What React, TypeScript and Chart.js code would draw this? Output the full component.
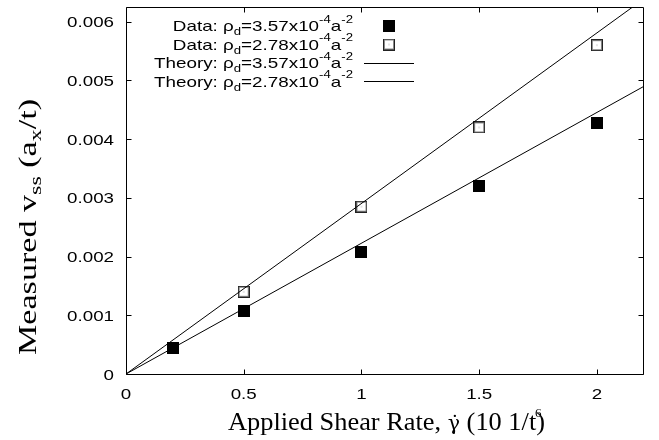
import { useEffect, useRef } from "react";
import { Chart, registerables } from "chart.js";

Chart.register(...registerables);

// ---- data ----
const xTicks = [0, 0.5, 1, 1.5, 2];
const xTickLabels = ["0", "0.5", "1", "1.5", "2"];
const yTicks = [0, 0.001, 0.002, 0.003, 0.004, 0.005, 0.006];
const yTickLabels = ["0", "0.001", "0.002", "0.003", "0.004", "0.005", "0.006"];

// Data: rho_d = 3.57e-4 (filled squares)
const shearA = [0.2, 0.5, 1, 1.5, 2];
const velA = [0.00044, 0.00108, 0.00208, 0.0032, 0.00428];
// Data: rho_d = 2.78e-4 (open squares)
const shearB = [0.5, 1, 1.5, 2];
const velB = [0.0014, 0.00285, 0.0042, 0.0056];
// Theory lines (end points)
const theoryX = [0, 2.2];
const theoryA = [0, 0.0049];
const theoryB = [0, 0.00639];

const legendLabels = ["Data: ", "Data: ", "Theory: ", "Theory: "];
const legendDensity = ["3.57", "2.78", "3.57", "2.78"];

const X_MIN = 0;
const X_MAX = 2.2;
const Y_MIN = 0;
const Y_MAX = 0.00625;

const SANS = '"Liberation Sans", Arial, sans-serif';
const SERIF = '"Liberation Serif", "Times New Roman", serif';
const GREEK = '"DejaVu Serif", serif';

type Seg = { t: string; k?: "sub" | "sup"; f?: string; s?: number };

function segFont(size: number, family: string, seg: Seg) {
  let s = seg.k ? size * 0.7 : size;
  if (seg.s) s *= seg.s;
  return `${s}px ${seg.f || family}`;
}
function measureRich(ctx: CanvasRenderingContext2D, segs: Seg[], size: number, family: string) {
  let w = 0;
  for (const s of segs) {
    ctx.font = segFont(size, family, s);
    w += ctx.measureText(s.t).width;
  }
  return w;
}
function drawRich(
  ctx: CanvasRenderingContext2D,
  segs: Seg[],
  x: number,
  y: number,
  size: number,
  family: string,
  sx: number,
  align: "left" | "right" | "center",
  subDy = 0.22,
  supDy = 0.5
) {
  const w = measureRich(ctx, segs, size, family);
  ctx.save();
  ctx.translate(x, y);
  ctx.scale(sx, 1);
  let cx = align === "right" ? -w : align === "center" ? -w / 2 : 0;
  ctx.textAlign = "left";
  ctx.textBaseline = "alphabetic";
  for (const s of segs) {
    ctx.font = segFont(size, family, s);
    const dy = s.k === "sub" ? size * subDy : s.k === "sup" ? -size * supDy : 0;
    ctx.fillText(s.t, cx, dy);
    cx += ctx.measureText(s.t).width;
  }
  ctx.restore();
}

function makeFilled() {
  const c = document.createElement("canvas");
  c.width = 12;
  c.height = 12;
  const g = c.getContext("2d")!;
  g.fillStyle = "#000";
  g.fillRect(0, 0, 12, 12);
  return c;
}
function makeOpen() {
  const c = document.createElement("canvas");
  c.width = 12;
  c.height = 12;
  const g = c.getContext("2d")!;
  g.fillStyle = "#fff";
  g.fillRect(0, 0, 12, 12);
  g.strokeStyle = "#222";
  g.lineWidth = 1;
  g.strokeRect(0.5, 0.5, 11, 11);
  g.strokeStyle = "#8a8a8a";
  g.strokeRect(1.5, 1.5, 9, 9);
  g.fillStyle = "#999";
  g.fillRect(5.5, 5.5, 1, 1);
  return c;
}

export default function App() {
  const ref = useRef<HTMLCanvasElement | null>(null);

  useEffect(() => {
    const canvas = ref.current;
    if (!canvas) return;
    const filledImg = makeFilled();
    const openImg = makeOpen();

    const overlay = {
      id: "overlay",
      afterDraw(chart: any) {
        const { ctx, chartArea: a, scales } = chart;
        const L = Math.round(a.left) + 0.5;
        const R = Math.round(a.right) - 0.5;
        const T = Math.round(a.top) + 0.5;
        const B = Math.round(a.bottom) + 0.5;
        ctx.save();
        ctx.strokeStyle = "#000";
        ctx.lineWidth = 1;
        ctx.beginPath();
        ctx.moveTo(L, T);
        ctx.lineTo(R, T);
        ctx.lineTo(R, B);
        ctx.lineTo(L, B);
        ctx.closePath();
        const tl = 5;
        for (const v of xTicks) {
          const px = Math.round(scales.x.getPixelForValue(v)) + 0.5;
          ctx.moveTo(px, B);
          ctx.lineTo(px, B - tl);
          ctx.moveTo(px, T);
          ctx.lineTo(px, T + tl);
        }
        for (const v of yTicks) {
          const py = Math.round(scales.y.getPixelForValue(v)) + 0.5;
          ctx.moveTo(L, py);
          ctx.lineTo(L + tl, py);
          ctx.moveTo(R, py);
          ctx.lineTo(R - tl, py);
        }
        ctx.stroke();

        ctx.fillStyle = "#000";
        const tsx = 1.25;
        // tick labels
        yTicks.forEach((v, i) => {
          const py = scales.y.getPixelForValue(v);
          drawRich(ctx, [{ t: yTickLabels[i] }], 114, py + 5.5, 15, SANS, tsx, "right");
        });
        xTicks.forEach((v, i) => {
          const px = scales.x.getPixelForValue(v);
          drawRich(ctx, [{ t: xTickLabels[i] }], px, 399, 15, SANS, tsx, "center");
        });

        // legend
        const rowsY = [26, 44.5, 63, 81.5];
        const segsFor = (i: number): Seg[] => [
          { t: legendLabels[i] + "ρ" },
          { t: "d", k: "sub" },
          { t: "=" + legendDensity[i] + "x10" },
          { t: "-4", k: "sup" },
          { t: "a" },
          { t: "-2", k: "sup" },
        ];
        const refW = measureRich(ctx, segsFor(2), 15, SANS);
        const lsx = 199 / refW;
        rowsY.forEach((y, i) => {
          drawRich(ctx, segsFor(i), 353, y + 5.2, 15, SANS, lsx, "right", 0.28, 0.55);
        });
        ctx.drawImage(filledImg, 383, 20);
        ctx.drawImage(openImg, 383, 38.5);
        ctx.beginPath();
        ctx.moveTo(364, 63.5);
        ctx.lineTo(414, 63.5);
        ctx.moveTo(364, 81.5);
        ctx.lineTo(414, 81.5);
        ctx.stroke();

        // y title
        const ySegs: Seg[] = [
          { t: "Measured v" },
          { t: "ss", k: "sub" },
          { t: " (a" },
          { t: "x", k: "sub" },
          { t: "/t)" },
        ];
        const yw = measureRich(ctx, ySegs, 25, SERIF);
        ctx.save();
        ctx.translate(36, 227);
        ctx.rotate(-Math.PI / 2);
        drawRich(ctx, ySegs, 0, 0, 25, SERIF, 256 / yw, "center", 0.2, 0.45);
        ctx.restore();

        // x title
        const xSegs: Seg[] = [
          { t: "Applied Shear Rate, " },
          { t: "γ\u0307", f: GREEK, s: 0.78 },
          { t: " (10 1/t)" },
        ];
        const xw = measureRich(ctx, xSegs, 25, SERIF);
        drawRich(ctx, xSegs, 228, 430, 25, SERIF, 317 / xw, "left");
        ctx.font = `13px ${SERIF}`;
        ctx.textAlign = "left";
        ctx.fillText("6", 535, 417);
        ctx.restore();
      },
    };

    const chart = new Chart(canvas, {
      type: "scatter",
      data: {
        datasets: [
          {
            type: "line",
            label: "Theory: ρd=3.57x10-4a-2",
            data: theoryX.map((x, i) => ({ x, y: theoryA[i] })),
            borderColor: "#000",
            borderWidth: 1,
            pointRadius: 0,
            fill: false,
            tension: 0,
          },
          {
            type: "line",
            label: "Theory: ρd=2.78x10-4a-2",
            data: theoryX.map((x, i) => ({ x, y: theoryB[i] })),
            borderColor: "#000",
            borderWidth: 1,
            pointRadius: 0,
            fill: false,
            tension: 0,
          },
          {
            label: "Data: ρd=3.57x10-4a-2",
            data: shearA.map((x, i) => ({ x, y: velA[i] })),
            pointStyle: filledImg as any,
            pointRadius: 6,
            showLine: false,
          },
          {
            label: "Data: ρd=2.78x10-4a-2",
            data: shearB.map((x, i) => ({ x, y: velB[i] })),
            pointStyle: openImg as any,
            pointRadius: 6,
            showLine: false,
          },
        ],
      } as any,
      options: {
        responsive: false,
        animation: false,
        events: [],
        layout: { padding: { top: 5, right: 15, left: 0, bottom: 0 } },
        plugins: { legend: { display: false }, tooltip: { enabled: false } },
        scales: {
          x: {
            type: "linear",
            min: X_MIN,
            max: X_MAX,
            grid: { display: false },
            border: { display: false },
            ticks: { display: false },
            afterBuildTicks: (s: any) => {
              s.ticks = xTicks.map((v) => ({ value: v }));
            },
            afterFit: (s: any) => {
              s.height = 66;
            },
          },
          y: {
            type: "linear",
            min: Y_MIN,
            max: Y_MAX,
            grid: { display: false },
            border: { display: false },
            ticks: { display: false },
            afterBuildTicks: (s: any) => {
              s.ticks = yTicks.map((v) => ({ value: v }));
            },
            afterFit: (s: any) => {
              s.width = 126;
            },
          },
        },
      } as any,
      plugins: [overlay],
    });
    return () => chart.destroy();
  }, []);

  return (
    <div style={{ position: "fixed", left: 0, top: 0, width: 659, height: 440, background: "#fff" }}>
      <canvas ref={ref} width={659} height={440} style={{ width: 659, height: 440, display: "block" }} />
    </div>
  );
}
